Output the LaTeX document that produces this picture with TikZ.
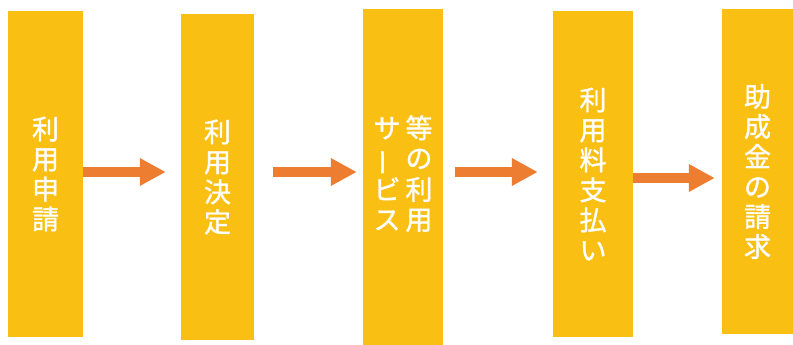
\documentclass[tikz,border=0pt]{standalone}
\usepackage{fontspec}
\setmainfont{Noto Sans CJK JP}[BoldFont=Noto Sans CJK JP, BoldFeatures={FakeBold=1.3}]
\usetikzlibrary{arrows.meta,positioning}
\definecolor{stepyellow}{HTML}{F9BF13}
\definecolor{floworange}{HTML}{ED7D31}

\begin{document}
\begin{tikzpicture}[
  x=1pt, y=1pt,
  box/.style  = {
    fill=stepyellow, draw=none,
    align=center,
    inner sep=0pt,
    minimum height=326pt,
    text=white,
    font=\fontsize{27}{30}\bfseries
  },
  flow/.style = {
    draw=floworange, line width=10pt,
    -{Triangle[length=26pt,width=26pt]}
  }
]

% ---- canvas ----
\useasboundingbox (0,0) rectangle (793,345);

% ---- boxes ----
\node[box, minimum width=75pt] (apply) at (45.5,171) {利\\用\\申\\請};
\node[box, minimum width=73pt] (decide) at (217.5,168) {利\\用\\決\\定};
\node[box, minimum width=80pt, minimum height=336pt] (use) at (403,168) {%
  \begin{tabular}{@{}c@{\hspace{5pt}}c@{}}
    サ & 等\\
    \rotatebox[origin=c]{90}{ー} & の\\
    ビ & 利\\
    ス & 用
  \end{tabular}};
\node[box, minimum width=80pt] (pay) at (593,171) {利\\用\\料\\支\\払\\い};
\node[box, minimum width=71pt, minimum height=325pt] (claim) at (757.5,173.5) {助\\成\\金\\の\\請\\求};

% ---- arrows ----
\draw[flow, shorten >=15pt] ([yshift=2pt]apply.east) -- ([yshift=5pt]decide.west);
\draw[flow, shorten <=19pt, shorten >=6pt] ([yshift=5pt]decide.east) -- ([yshift=5pt]use.west);
\draw[flow, shorten <=12pt, shorten >=15pt] ([yshift=5pt]use.east) -- ([yshift=2pt]pay.west);
\draw[flow, shorten >=7pt] ([yshift=-4pt]pay.east) -- ([yshift=-6.5pt]claim.west);

\end{tikzpicture}
\end{document}
